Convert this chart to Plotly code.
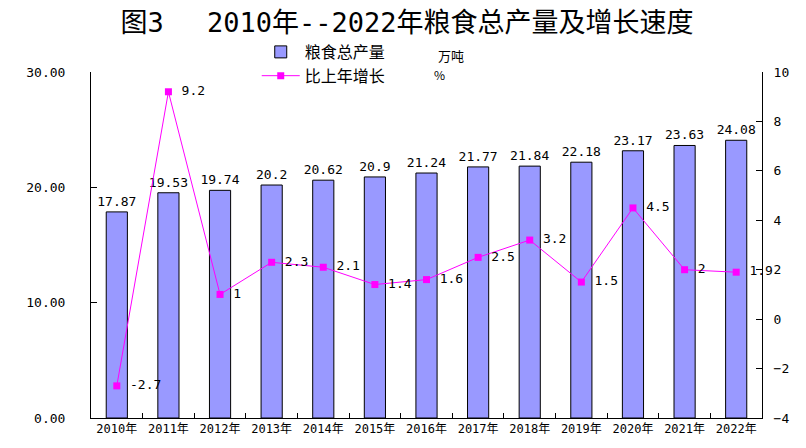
import plotly.graph_objects as go

# 数据
years = ["2010年", "2011年", "2012年", "2013年", "2014年", "2015年", "2016年",
         "2017年", "2018年", "2019年", "2020年", "2021年", "2022年"]
output = [17.87, 19.53, 19.74, 20.2, 20.62, 20.9, 21.24, 21.77, 21.84, 22.18, 23.17, 23.63, 24.08]
growth = [-2.7, 9.2, 1, 2.3, 2.1, 1.4, 1.6, 2.5, 3.2, 1.5, 4.5, 2, 1.9]

mono = "DejaVu Sans Mono, Noto Sans CJK SC"
cjk = "Noto Sans CJK SC"

fig = go.Figure()

fig.add_trace(go.Bar(x=years, y=output,
                     name="粮食总产量",
                     marker=dict(color="#9999FF", line=dict(color="black", width=1)),
                     text=[str(v) for v in output],
                     textposition="outside",
                     constraintext="none",
                     textfont=dict(family=mono, size=13, color="black"),
                     cliponaxis=False,
                     width=0.41))

fig.add_trace(go.Scatter(x=years, y=growth,
                         name="比上年增长",
                         mode="lines+markers+text",
                         yaxis="y2",
                         line=dict(color="#FF00FF", width=1),
                         marker=dict(symbol="square", size=7, color="#FF00FF"),
                         text=[" " + str(v) for v in growth],  # 标签离点远一点
                         textposition="middle right",
                         textfont=dict(family=mono, size=13, color="black"),
                         cliponaxis=False))

# 页面有 8px 边距，所以画布缩小 8px
fig.update_layout(
    width=798, height=440,
    margin=dict(l=83, r=44, t=64, b=30),
    paper_bgcolor="white", plot_bgcolor="white",
    title=dict(text="图3　 2010年--2022年粮食总产量及增长速度",
               x=0.5, xanchor="center", y=0.968, yanchor="middle",
               font=dict(family=mono, size=27, color="black")),
    legend=dict(x=0.247, y=1.107, xanchor="left", yanchor="top",
                font=dict(family=cjk, size=16, color="black"),
                bgcolor="rgba(0,0,0,0)", tracegroupgap=0, itemwidth=38),
    bargap=0.59,
    showlegend=True,
    annotations=[
        dict(text="万吨", x=451, y=44, xref="paper", yref="paper", showarrow=False,
             font=dict(family=cjk, size=13, color="black")),
        dict(text="%", x=439, y=64, xref="paper", yref="paper", showarrow=False,
             font=dict(family=cjk, size=12, color="black")),
    ],
)

# 注释位置换算成 paper 坐标
for a in fig.layout.annotations:
    a.x = (a.x - 91) / 671
    a.y = (418 - a.y) / 346

fig.update_xaxes(type="category", range=[-0.5, 12.5],
                 showline=True, linecolor="black", linewidth=1,
                 ticks="inside", tickson="boundaries", ticklen=5, tickcolor="black",
                 tickfont=dict(family=mono, size=12, color="black"),
                 showgrid=False, zeroline=False)

fig.update_layout(
    yaxis=dict(range=[0, 30], dtick=10, tickformat=".2f",
               showline=True, linecolor="black", linewidth=1,
               ticks="inside", ticklen=6, tickcolor="black",
               ticklabelstandoff=22,
               tickfont=dict(family=mono, size=13, color="black"),
               showgrid=False, zeroline=False),
    yaxis2=dict(range=[-4, 10], dtick=2, overlaying="y", side="right",
                showline=True, linecolor="black", linewidth=1,
                ticks="inside", ticklen=6, tickcolor="black",
                ticklabelstandoff=8,
                tickfont=dict(family=mono, size=13, color="black"),
                showgrid=False, zeroline=False),
)

fig.write_html("out.html")
